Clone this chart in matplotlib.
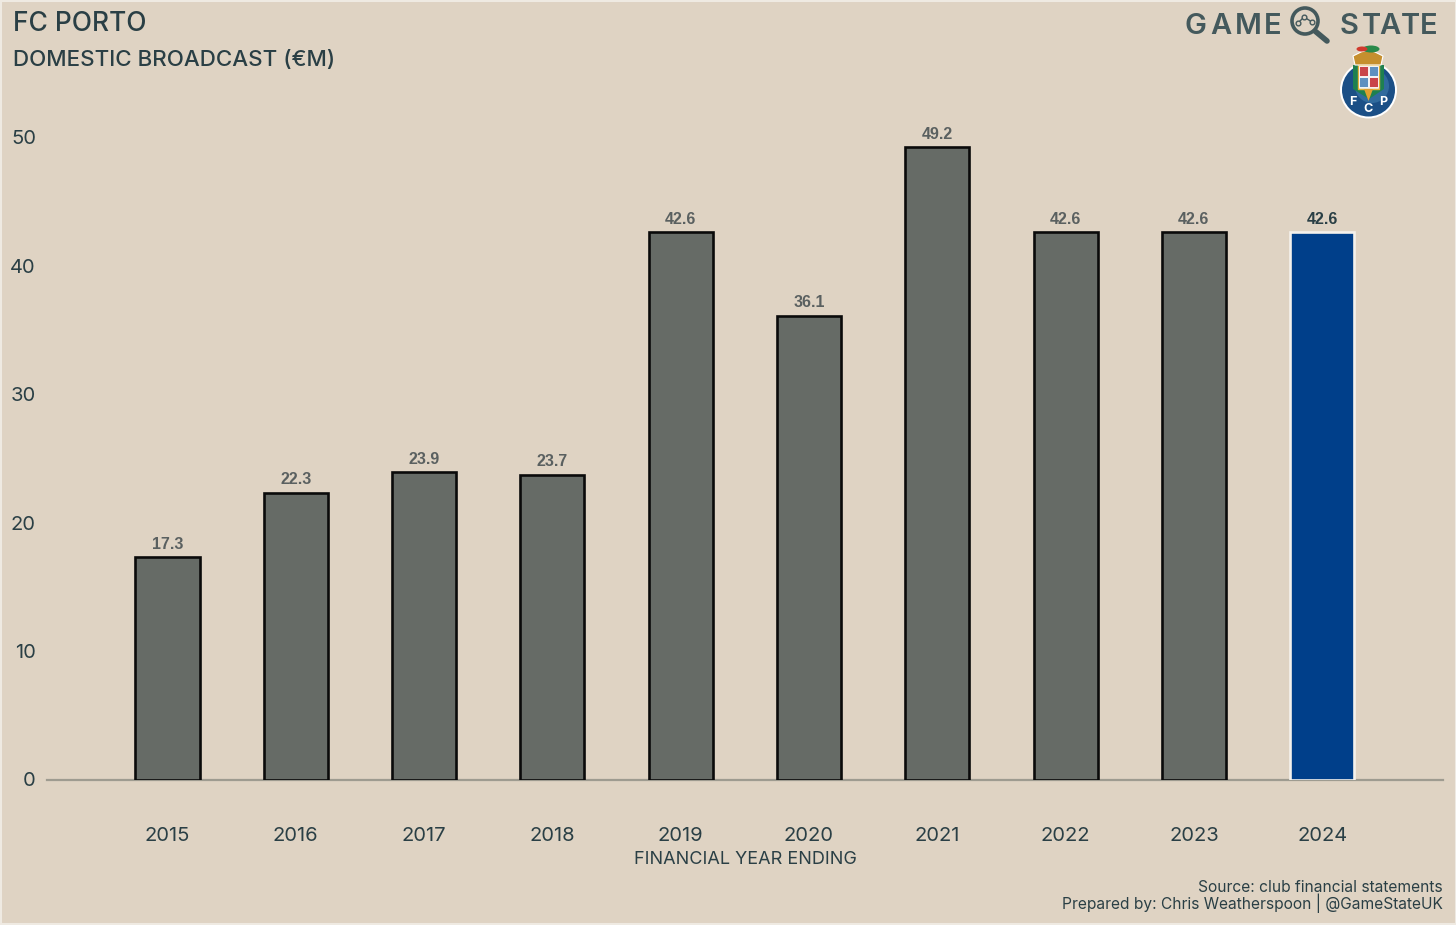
import matplotlib
matplotlib.use("Agg")
import matplotlib.pyplot as plt
from matplotlib.patches import Circle, Rectangle, Polygon, Ellipse

years = [2015, 2016, 2017, 2018, 2019, 2020, 2021, 2022, 2023, 2024]
values = [17.3, 22.3, 23.9, 23.7, 42.6, 36.1, 49.2, 42.6, 42.6, 42.6]
y_ticks = [0, 10, 20, 30, 40, 50]
title = "FC PORTO"
subtitle = "DOMESTIC BROADCAST (€M)"
x_label = "FINANCIAL YEAR ENDING"
source = "Source: club financial statements"
credit = "Prepared by: Chris Weatherspoon | @GameStateUK"

BG = "#DFD3C3"
GREY = "#666B66"
BLUE = "#003F8A"
INK = "#2A3F45"
FONT = ["Inter", "Lato", "DejaVu Sans"]
W, H = 1456, 925

plt.rcParams["font.family"] = FONT
fig = plt.figure(figsize=(W / 100, H / 100), dpi=100, facecolor=BG)
ax = fig.add_axes([47 / W, 1 - 779.5 / H, (1443 - 47) / W, (779.5 - 100) / H], facecolor="none")

cols = [GREY] * 9 + [BLUE]
edges = ["#0A0A0A"] * 9 + ["#F4F1EC"]
ax.bar(years, values, width=0.5, color=cols, edgecolor=edges, linewidth=1.9, zorder=3)
for i, (yr, v) in enumerate(zip(years, values)):
    last = i == len(years) - 1
    ax.annotate(f"{v:.1f}", (yr, v), xytext=(0, 4), textcoords="offset points", ha="center", va="bottom",
                fontsize=11.5, fontweight="bold", family="Liberation Sans",
                color=INK if last else "#5A6060")

ax.set_xlim(2015 - 120.5 / 128.3, 2015 + 1275.5 / 128.3)
ax.set_ylim(0, 679.5 / 12.85)
ax.set_xticks(years)
ax.set_xticklabels([str(y) for y in years])
ax.set_yticks(y_ticks)
ax.tick_params(axis="both", length=0, labelsize=14.5, labelcolor=INK)
ax.tick_params(axis="x", pad=34)
ax.tick_params(axis="y", pad=8)
for s in ["top", "right", "left"]:
    ax.spines[s].set_visible(False)
ax.spines["bottom"].set_color("#9E9B90")
ax.spines["bottom"].set_linewidth(1.6)

# Overlay in pixel space: texts and decorative logos
ov = fig.add_axes([0, 0, 1, 1], facecolor="none")
ov.set_xlim(0, W)
ov.set_ylim(H, 0)
ov.axis("off")
ov.add_patch(Rectangle((0.5, 0.5), W - 1, H - 1.5, fill=False, ec="#EFEAE2", lw=1.5))

ov.text(13, 24, title, fontsize=19, color=INK, va="center", ha="left", fontweight="medium")
ov.text(13, 60, subtitle, fontsize=16.1, color=INK, va="center", ha="left", fontweight="medium")
ov.text(745, 859, x_label, fontsize=13, color=INK, va="center", ha="center")
ov.text(1443, 887, source, fontsize=11.2, color=INK, va="center", ha="right")
ov.text(1443, 903.5, credit, fontsize=11.2, color=INK, va="center", ha="right")

# GAME STATE wordmark, letter-spaced
LOGO = "#44595C"
for ch, x in zip("GAME", [1195, 1221, 1248, 1273]):
    ov.text(x, 26, ch, fontsize=21, color=LOGO, ha="center", va="center", fontweight="semibold")
for ch, x in zip("STATE", [1349, 1371, 1390, 1410, 1429]):
    ov.text(x, 26, ch, fontsize=21, color=LOGO, ha="center", va="center", fontweight="semibold")
# magnifier
ov.add_patch(Circle((1305, 21), 13, fill=False, ec=LOGO, lw=2.6))
ov.plot([1315, 1327], [31, 41], color=LOGO, lw=4, solid_capstyle="round")
ov.plot([1298, 1304, 1312], [23, 17, 22], color=LOGO, lw=1, marker="o", ms=3.4, mfc=BG, mec=LOGO)

# FC Porto crest
ov.add_patch(Circle((1368.5, 90), 28.5, fc="white", ec="none"))
ov.add_patch(Circle((1368.5, 90), 26.5, fc="#1B4F86", ec="none"))
ov.add_patch(Circle((1372, 86), 17, fc="#3F7DAE", ec="none", alpha=0.6))
ov.add_patch(Polygon([[1353, 65], [1384, 65], [1384, 89], [1369, 99], [1353, 89]], fc="#1E8050", ec="none"))
ov.add_patch(Rectangle((1358, 65), 21, 24, fc="#F2EEE8", ec="#E2B23C", lw=1))
for (x, y, c) in [(1359, 66, "#C9444A"), (1369, 66, "#5F90C0"), (1359, 77, "#5F90C0"), (1369, 77, "#C9444A")]:
    ov.add_patch(Rectangle((x, y), 8.5, 9.5, fc=c, ec="white", lw=0.6))
ov.add_patch(Polygon([[1355, 65], [1353, 56], [1361, 52], [1368, 50], [1375, 52], [1383, 56], [1381, 65]],
                     fc="#C58F2E", ec="white", lw=0.8))
ov.add_patch(Ellipse((1371, 49), 17, 7, fc="#2A8A4A", ec="none"))
ov.add_patch(Ellipse((1362, 49), 11, 5, fc="#D03A2E", ec="none"))
ov.add_patch(Polygon([[1364, 89], [1373, 89], [1368.5, 101]], fc="#E0A030", ec="none"))
for ch, x, y in [("F", 1353, 102), ("C", 1368.5, 109), ("P", 1383, 102)]:
    ov.text(x, y, ch, fontsize=9, color="white", fontweight="bold", ha="center", va="center")

fig.savefig("out.png", dpi=100, facecolor=BG)
